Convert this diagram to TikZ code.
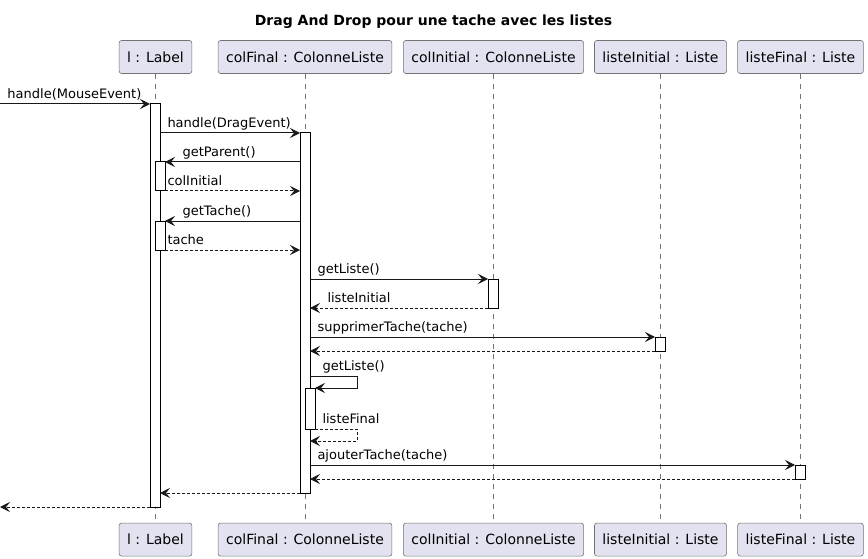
\documentclass[tikz,border=0pt]{standalone}
\usepackage{fontspec}
\setmainfont{DejaVu Sans}
\usetikzlibrary{arrows.meta,positioning}
\definecolor{partfill}{HTML}{E2E2F0}
\definecolor{partdraw}{HTML}{181818}
\tikzset{
    participant/.style = {draw=black!55, fill=partfill, line width=0.6pt, rounded corners=2.5pt, minimum height=33pt, inner xsep=8pt, font=\fontsize{14}{16}\selectfont},
    lifeline/.style = {draw=black!55, line width=0.6pt, dash pattern=on 5pt off 5pt},
    act/.style = {draw, fill=white, line width=1pt, minimum width=10pt, inner sep=0pt, outer sep=0pt, anchor=north},
    msg/.style = {-{Stealth[length=10pt, width=10pt, inset=4pt]}, line width=1pt, color=partdraw},
    ret/.style = {msg, dash pattern=on 3pt off 2pt},
    lbl/.style = {font=\fontsize{13}{15}\selectfont, inner sep=0pt, anchor=base west, text=black},
}

\begin{document}
\begin{tikzpicture}[x=1pt, y=-1pt, node distance=449pt]
    \useasboundingbox (0,0) rectangle (868,559);

    % Title
    \node[font=\fontsize{14}{16}\selectfont\bfseries] (title) at (433.5,22) {Drag And Drop pour une tache avec les listes};

    % Participants (top)
    \node[participant] (pL) at (155.5,57) {l : Label};
    \node[participant] (pCF) at (305,57) {colFinal : ColonneListe};
    \node[participant] (pCI) at (493.5,57) {colInitial : ColonneListe};
    \node[participant] (pLI) at (660.5,57) {listeInitial : Liste};
    \node[participant] (pLF) at (800.5,57) {listeFinal : Liste};

    % Participants (bottom)
    \node[participant, below=of pL] (pLb) {l : Label};
    \node[participant, below=of pCF] (pCFb) {colFinal : ColonneListe};
    \node[participant, below=of pCI] (pCIb) {colInitial : ColonneListe};
    \node[participant, below=of pLI] (pLIb) {listeInitial : Liste};
    \node[participant, below=of pLF] (pLFb) {listeFinal : Liste};

    % Lifelines
    \draw[lifeline] (pL) -- (pLb);
    \draw[lifeline] (pCF) -- (pCFb);
    \draw[lifeline] (pCI) -- (pCIb);
    \draw[lifeline] (pLI) -- (pLIb);
    \draw[lifeline] (pLF) -- (pLFb);

    % Activations
    \node[act, minimum height=403pt] (aL) at (155,104) {};
    \node[act, minimum height=29pt] (aL1) at (160,162) {};
    \node[act, minimum height=29pt] (aL2) at (160,221) {};
    \node[act, minimum height=360pt] (aC) at (305,133) {};
    \node[act, minimum height=41pt] (aC1) at (310,388) {};
    \node[act, minimum height=29pt] (aI) at (493,279) {};
    \node[act, minimum height=14pt] (aLI) at (660,337) {};
    \node[act, minimum height=14pt] (aLF) at (800,465) {};

    % Free ends
    \coordinate (in) at (0,104);
    \coordinate (out) at (0,507);
    \coordinate (self1) at (310,376);
    \coordinate (self2) at (310,441);

    % Messages
    \draw[msg] (in) -- node[lbl, pos=0, xshift=7pt, yshift=5.5pt] {handle(MouseEvent)} (aL.north west);
    \draw[msg] (aL.east |- aC.north) -- node[lbl, pos=0, xshift=7pt, yshift=5.5pt] {handle(DragEvent)} (aC.north west);
    \draw[msg] (aC.west |- aL1.north) -- node[lbl, pos=1, xshift=17pt, yshift=5.5pt] {getParent()} (aL1.north east);
    \draw[ret] (aL1.south east) -- node[lbl, pos=0, xshift=2pt, yshift=5.5pt] {colInitial} (aC.west |- aL1.south);
    \draw[msg] (aC.west |- aL2.north) -- node[lbl, pos=1, xshift=17pt, yshift=5.5pt] {getTache()} (aL2.north east);
    \draw[ret] (aL2.south east) -- node[lbl, pos=0, xshift=2pt, yshift=5.5pt] {tache} (aC.west |- aL2.south);
    \draw[msg] (aC.east |- aI.north) -- node[lbl, pos=0, xshift=7pt, yshift=5.5pt] {getListe()} (aI.north west);
    \draw[ret] (aI.south west) -- node[lbl, pos=1, xshift=17pt, yshift=5.5pt] {listeInitial} (aC.east |- aI.south);
    \draw[msg] (aC.east |- aLI.north) -- node[lbl, pos=0, xshift=7pt, yshift=5.5pt] {supprimerTache(tache)} (aLI.north west);
    \draw[ret] (aLI.south west) -- (aC.east |- aLI.south);
    \draw[msg] (self1) -- node[lbl, pos=0, xshift=12pt, yshift=5.5pt] {getListe()} ++(47,0) |- (aC1.north east);
    \draw[ret] (aC1.south east) -- node[lbl, pos=0, xshift=7pt, yshift=5.5pt] {listeFinal} ++(42,0) |- (self2);
    \draw[msg] (aC.east |- aLF.north) -- node[lbl, pos=0, xshift=7pt, yshift=5.5pt] {ajouterTache(tache)} (aLF.north west);
    \draw[ret] (aLF.south west) -- (aC.east |- aLF.south);
    \draw[ret] (aC.south west) -- (aL.east |- aC.south);
    \draw[ret] (aL.south west) -- (out);
\end{tikzpicture}
\end{document}
